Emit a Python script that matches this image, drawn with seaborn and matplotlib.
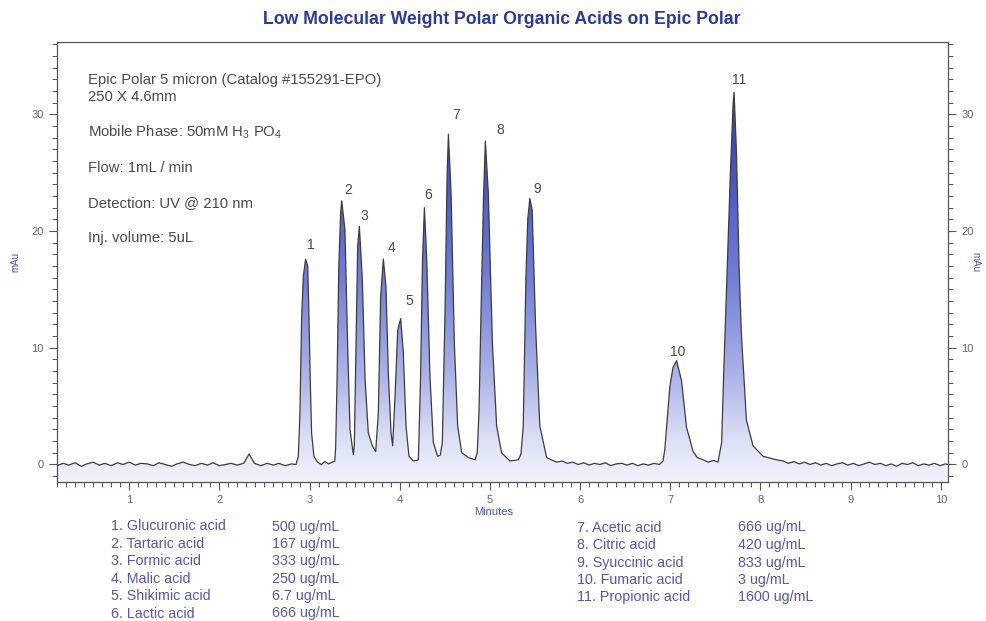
import numpy as np
import pandas as pd
import matplotlib.pyplot as plt
import seaborn as sns
from matplotlib.colors import LinearSegmentedColormap
from matplotlib.patches import PathPatch
from matplotlib.ticker import MultipleLocator

sns.set_style("white")
plt.rcParams["font.family"] = ["Liberation Sans", "DejaVu Sans"]
plt.rcParams["mathtext.fontset"] = "custom"
plt.rcParams["mathtext.rm"] = "Liberation Sans"
plt.rcParams["mathtext.default"] = "regular"

# chromatogram trace, in pieces (minutes, mAU)
base_a_min = [0.20, 0.27, 0.33, 0.40, 0.47, 0.53, 0.60, 0.67, 0.73, 0.80, 0.87, 0.93,
              1.00, 1.07, 1.13, 1.20, 1.27, 1.33, 1.40, 1.47, 1.53, 1.60, 1.67, 1.73,
              1.80, 1.87, 1.93, 2.00, 2.07, 2.13, 2.20, 2.27, 2.33, 2.39, 2.46, 2.53,
              2.60, 2.66, 2.73, 2.80, 2.85]
base_a_mau = [-0.1, 0.1, -0.05, 0.15, -0.15, 0.05, 0.2, -0.05, 0.1, -0.1, 0.15, 0.0,
              0.2, -0.05, 0.1, 0.05, -0.1, 0.15, 0.0, -0.15, 0.05, 0.2, 0.0, -0.1,
              0.1, -0.05, 0.15, -0.1, 0.0, 0.1, -0.05, 0.1, 0.9, 0.1, -0.1, 0.1,
              -0.05, 0.1, -0.1, 0.05, 0.0]

pk_1to5_min = [2.876, 2.894, 2.912, 2.931, 2.957, 2.98, 2.993, 3.008, 3.023, 3.049,
               3.09, 3.13, 3.17, 3.21, 3.25, 3.28,
               3.29, 3.305, 3.325, 3.345, 3.357, 3.393, 3.423, 3.449, 3.486,
               3.497, 3.516, 3.534, 3.553, 3.586, 3.616, 3.652, 3.697, 3.734,
               3.763, 3.789, 3.819, 3.848, 3.874, 3.904, 3.922,
               3.948, 3.978, 4.011, 4.04, 4.07, 4.103, 4.151, 4.207]
pk_1to5_mau = [0.7, 4.4, 12.4, 16.1, 17.6, 17.0, 13.0, 7.3, 2.7, 0.7,
               0.2, 0.0, 0.25, 0.05, 0.2, 0.3,
               1.5, 7.0, 17.0, 21.5, 22.6, 20.1, 10.1, 3.0, 0.85,
               1.6, 10.1, 18.7, 20.4, 15.8, 7.3, 2.7, 1.6, 1.1,
               4.4, 14.4, 17.6, 15.2, 7.8, 2.7, 1.6,
               5.8, 11.5, 12.5, 9.6, 3.3, 0.7, 0.3, 0.4]

pk_6to9_min = [4.231, 4.253, 4.274, 4.30, 4.336, 4.373, 4.42, 4.45,
               4.473, 4.503, 4.525, 4.54, 4.57, 4.606, 4.643, 4.688, 4.761, 4.835, 4.86,
               4.88, 4.91, 4.93, 4.95, 4.983, 5.028, 5.075, 5.13, 5.222, 5.315, 5.345,
               5.37, 5.40, 5.42, 5.443, 5.469, 5.507, 5.554, 5.629]
pk_6to9_mau = [7.3, 17.5, 22.0, 17.5, 7.5, 1.9, 0.7, 0.8,
               1.9, 13.3, 24.5, 28.3, 23.2, 10.4, 3.3, 1.0, 0.6, 0.4, 1.0,
               4.7, 16.1, 23.0, 27.7, 23.2, 10.4, 3.3, 1.0, 0.3, 0.4, 0.9,
               3.3, 16.1, 21.0, 22.8, 21.8, 11.8, 3.3, 0.6]

base_d_min = [5.68, 5.74, 5.80, 5.86, 5.92, 5.98, 6.04, 6.10, 6.16, 6.22, 6.28,
              6.34, 6.40, 6.46, 6.52, 6.58, 6.64, 6.70, 6.76, 6.82, 6.88, 6.92]
base_d_mau = [0.4, 0.2, 0.3, 0.1, 0.2, 0.0, 0.15, -0.05, 0.1, 0.0, 0.15,
              -0.1, 0.05, 0.1, -0.05, 0.1, -0.1, 0.05, -0.05, 0.1, 0.0, 0.3]

pk_10to11_min = [6.94, 6.996, 7.03, 7.07, 7.125, 7.18, 7.254, 7.30, 7.365, 7.42, 7.48,
                 7.53, 7.57, 7.594, 7.631, 7.668, 7.697, 7.708, 7.735, 7.764, 7.79,
                 7.845, 7.918, 8.03, 8.18]
pk_10to11_mau = [1.3, 6.7, 8.3, 8.9, 7.2, 3.2, 1.1, 0.6, 0.4, 0.2, 0.35,
                 0.2, 1.9, 8.1, 16.7, 25.2, 30.9, 31.9, 26.6, 16.7, 11.0,
                 3.8, 1.6, 0.7, 0.4]

base_f_min = [8.25, 8.31, 8.37, 8.43, 8.49, 8.55, 8.61, 8.67, 8.73, 8.79, 8.85, 8.91,
              8.97, 9.03, 9.09, 9.15, 9.21, 9.27, 9.33, 9.39, 9.45, 9.51, 9.57, 9.63,
              9.69, 9.75, 9.81, 9.87, 9.93, 9.99, 10.05, 10.08]
base_f_mau = [0.3, 0.1, 0.25, 0.05, 0.2, 0.0, 0.15, -0.05, 0.1, -0.1, 0.05, 0.15,
              -0.05, 0.1, -0.1, 0.05, 0.2, 0.0, 0.1, -0.1, 0.05, -0.15, 0.1, 0.0,
              0.15, -0.1, 0.05, -0.05, 0.1, -0.1, 0.05, 0.0]

# peak table
peak_ids = ["1", "2", "3", "4", "5", "6", "7", "8", "9", "10", "11"]
peak_min = [2.957, 3.357, 3.553, 3.819, 4.011, 4.274, 4.54, 4.95, 5.443, 7.07, 7.708]
peak_mau = [17.6, 22.6, 20.4, 17.6, 12.5, 22.0, 28.3, 27.7, 22.8, 8.9, 31.9]
label_shift = [(5, 14), (6, 11), (5, 10), (8, 11), (9, 18), (4, 13),
               (8, 19), (15, 11), (7, 9), (1, 9), (5, 12)]

compounds_left = ["1. Glucuronic acid", "2. Tartaric acid", "3. Formic acid",
                  "4. Malic acid", "5. Shikimic acid", "6. Lactic acid"]
conc_left = ["500 ug/mL", "167 ug/mL", "333 ug/mL", "250 ug/mL", "6.7 ug/mL", "666 ug/mL"]
compounds_right = ["7. Acetic acid", "8. Citric acid", "9. Syuccinic acid",
                   "10. Fumaric acid", "11. Propionic acid"]
conc_right = ["666 ug/mL", "420 ug/mL", "833 ug/mL", "3 ug/mL", "1600 ug/mL"]

conditions = ["Epic Polar 5 micron (Catalog #155291-EPO)", "250 X 4.6mm",
              "Mobile Phase: 50mM H$_3$ PO$_4$", "Flow: 1mL / min",
              "Detection: UV @ 210 nm", "Inj. volume: 5uL"]

trace = pd.DataFrame({
    "minutes": base_a_min + pk_1to5_min + pk_6to9_min + base_d_min + pk_10to11_min + base_f_min,
    "mau": base_a_mau + pk_1to5_mau + pk_6to9_mau + base_d_mau + pk_10to11_mau + base_f_mau,
})

W, H = 987, 621
fig = plt.figure(figsize=(W / 100, H / 100), dpi=100)
ax = fig.add_axes([57 / W, 1 - 482 / H, (948 - 57) / W, (482 - 42) / H])
xlo, xhi, ylo, yhi = 0.2, 10.08, -1.5, 36.2

# gradient fill under the trace
poly = ax.fill_between(trace["minutes"], trace["mau"], ylo, facecolor="none", edgecolor="none")
patch = PathPatch(poly.get_paths()[0], transform=ax.transData, facecolor="none", edgecolor="none")
ax.add_patch(patch)
cmap = LinearSegmentedColormap.from_list("blu", [
    (0.0, "#f2f3fc"), (0.1, "#dde1f7"), (0.27, "#aab2e8"),
    (0.5, "#737fd6"), (0.75, "#4a57c3"), (1.0, "#2e3cb2")])
grad = np.linspace(0, 1, 256).reshape(-1, 1)
img = ax.imshow(grad, extent=[xlo, xhi, ylo, 33.0], origin="lower", aspect="auto",
                cmap=cmap, zorder=1)
img.set_clip_path(patch)

sns.lineplot(data=trace, x="minutes", y="mau", ax=ax, color="#3c3c3c", lw=0.9,
             sort=False, estimator=None, zorder=3)

for pid, t, v, (dx, dy) in zip(peak_ids, peak_min, peak_mau, label_shift):
    ax.annotate(pid, (t, v), xytext=(dx, dy), textcoords="offset pixels",
                ha="center", va="center", fontsize=10, color="#4a4a4a")

ax.set_xlim(xlo, xhi)
ax.set_ylim(ylo, yhi)
ax.set_xlabel("")
ax.set_ylabel("")
ax.xaxis.set_major_locator(MultipleLocator(1))
ax.xaxis.set_minor_locator(MultipleLocator(0.1))
ax.yaxis.set_major_locator(MultipleLocator(10))
ax.yaxis.set_minor_locator(MultipleLocator(1))
ax.tick_params(which="both", direction="out", color="#555555", labelcolor="#666666",
               labelsize=8, top=False, right=False, bottom=True, left=True)
ax.tick_params(which="major", length=6, width=0.8)
ax.tick_params(which="minor", length=3.5, width=0.7)
for s in ax.spines.values():
    s.set_color("#555555")
    s.set_linewidth(0.9)

ax2 = ax.twinx()
ax2.set_ylim(ylo, yhi)
ax2.yaxis.set_major_locator(MultipleLocator(10))
ax2.yaxis.set_minor_locator(MultipleLocator(1))
ax2.tick_params(which="both", direction="out", color="#555555", labelcolor="#666666",
                labelsize=8, right=True, left=False)
ax2.tick_params(which="major", length=6, width=0.8)
ax2.tick_params(which="minor", length=3.5, width=0.7)
for s in ax2.spines.values():
    s.set_visible(False)

fig.text(502 / W, 1 - 20 / H, "Low Molecular Weight Polar Organic Acids on Epic Polar",
         ha="center", va="center", fontsize=12.7, fontweight="bold", color="#2b3a9a")
fig.text(15 / W, 1 - 262 / H, "mAu", rotation=90, ha="center", va="center",
         fontsize=7, color="#4a55b0")
fig.text(975 / W, 1 - 262 / H, "mAu", rotation=270, ha="center", va="center",
         fontsize=7, color="#4a55b0")
fig.text(494 / W, 1 - 512 / H, "Minutes", ha="center", va="center",
         fontsize=8, color="#4a55b0")

for txt, ypx in zip(conditions, [80, 97, 132, 168, 203, 238]):
    fig.text(88 / W, 1 - ypx / H, txt, ha="left", va="center", fontsize=10.7, color="#4a4a4a")

legend_color = "#5558aa"
for i, (name, conc) in enumerate(zip(compounds_left, conc_left)):
    y = 1 - (526.5 + i * 17.4) / H
    fig.text(111 / W, y, name, ha="left", va="center", fontsize=10.3, color=legend_color)
    fig.text(272 / W, y, conc, ha="left", va="center", fontsize=10.3, color=legend_color)
for i, (name, conc) in enumerate(zip(compounds_right, conc_right)):
    y = 1 - (527.5 + i * 17.5) / H
    fig.text(577 / W, y, name, ha="left", va="center", fontsize=10.3, color=legend_color)
    fig.text(738 / W, y, conc, ha="left", va="center", fontsize=10.3, color=legend_color)

fig.savefig("out.png", dpi=100)
